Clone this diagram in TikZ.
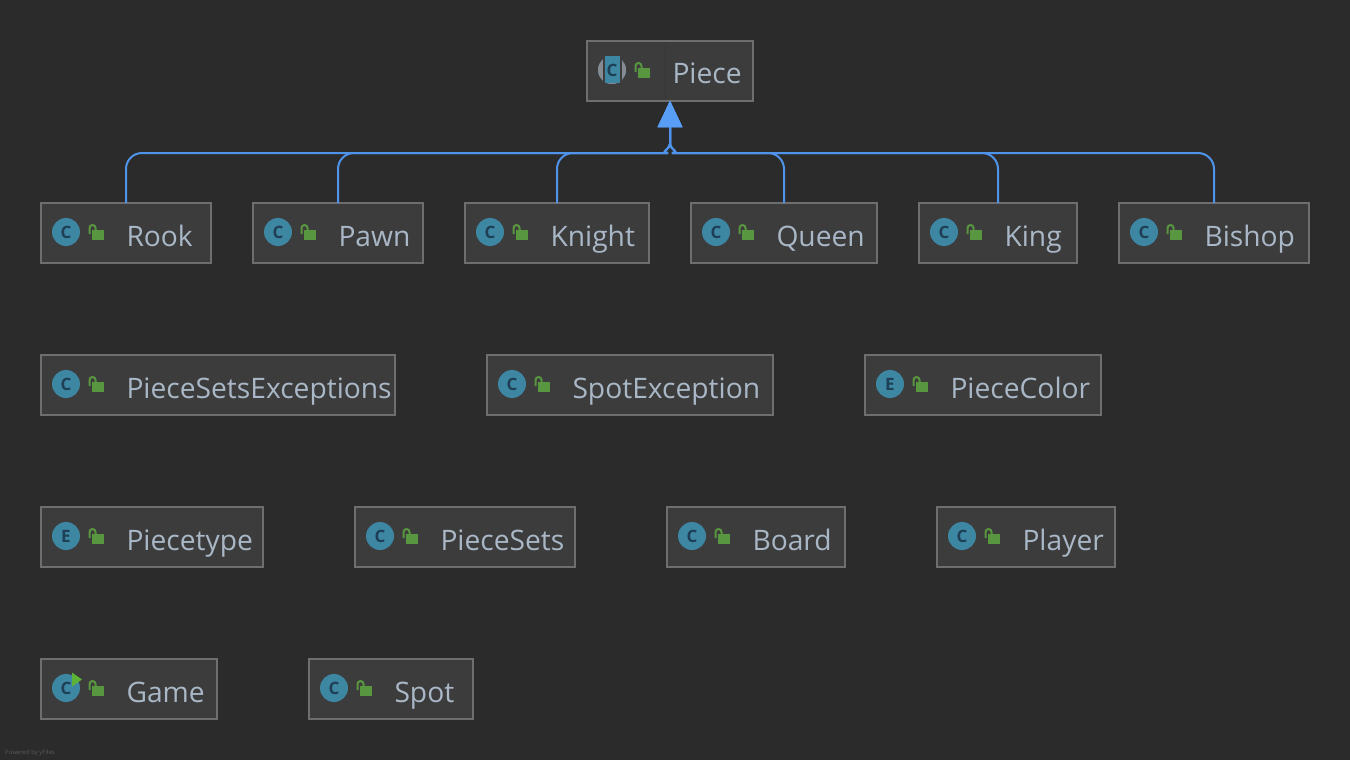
\documentclass[tikz,border=0pt]{standalone}
\usepackage{fontspec}
\setmainfont{Open Sans}
\usetikzlibrary{calc}
\usetikzlibrary{arrows.meta}

\definecolor{bgcol}{HTML}{2B2B2B}
\definecolor{boxfill}{HTML}{3C3C3C}
\definecolor{boxline}{HTML}{6E6E6E}
\definecolor{labelcol}{HTML}{A9B7C6}
\definecolor{iconcol}{HTML}{3D87A3}
\definecolor{iconletter}{HTML}{1E3F55}
\definecolor{lockcol}{HTML}{58963F}
\definecolor{runcol}{HTML}{5CB336}
\definecolor{inheritcol}{HTML}{4F94EA}
\definecolor{tipcol}{HTML}{589DF6}

\tikzset{
    classbox/.style={draw=boxline, fill=boxfill, line width=2pt, outer sep=0pt, inner sep=0pt, minimum height=60pt, anchor=north west},
    classlabel/.style={text=labelcol, font=\fontsize{28.2}{28.2}\selectfont, inner sep=0pt, outer sep=0pt, anchor=base west},
    kindletter/.style={text=iconletter, font=\fontsize{17}{17}\selectfont\bfseries, inner sep=0pt},
    inherit/.style={draw=inheritcol, line width=2pt, -{Triangle[length=26pt, width=24pt, color=tipcol]}},
}

% class box: icon, lock and name
\newcommand{\classnode}[6]{
    \node [classbox, minimum width=#4pt] (#1) at (#2,#3) {};
    \fill [iconcol] (#2+25,#3+29) circle [radius=14];
    \node [kindletter] (#1-kind) at (#2+25,#3+29) {#5};
    \fill [lockcol] (#2+51,#3+27) rectangle (#2+63,#3+37);
    \draw [lockcol, line width=2pt, rounded corners=3pt] (#2+48.5,#3+31) -- (#2+48.5,#3+22) -- (#2+54.5,#3+22) -- (#2+54.5,#3+27);
    \node [classlabel] (#1-label) at (#2+85.5,#3+43) {#6};
}

\begin{document}
\begin{tikzpicture}[x=1pt,y=-1pt]

    \useasboundingbox (0,0) rectangle (1350,760);
    \fill [bgcol] (0,0) rectangle (1350,760);

    %% root class
    \classnode{Piece}{587}{41}{166}{C}{Piece}
    \draw [line width=1pt, boxfill!92!black] (665,42) -- (665,100);
    % abstract marker on the icon
    \fill [boxline!60!labelcol] (612,70) circle [radius=14];
    \fill [boxfill] (603,55) rectangle (605,85);
    \fill [boxfill] (620,55) rectangle (622,85);
    \fill [iconcol] (605,56.5) rectangle (620,83.5);
    \node [kindletter] (Piece-abstract) at (612,70) {C};

    %% all other classes
    \foreach \nm/\x/\y/\w/\kind in {
        Rook/41/203/170/C, Pawn/253/203/170/C, Knight/465/203/184/C,
        Queen/691/203/186/C, King/919/203/158/C, Bishop/1119/203/190/C,
        PieceSetsExceptions/41/355/354/C, SpotException/487/355/286/C, PieceColor/865/355/236/E,
        Piecetype/41/507/222/E, PieceSets/355/507/220/C, Board/667/507/178/C, Player/937/507/178/C,
        Game/41/659/176/C, Spot/309/659/164/C}
    {
        \classnode{\nm}{\x}{\y}{\w}{\kind}{\nm}
    }

    % run marker
    \fill [runcol] (72,672.5) -- (82,679.5) -- (72,686.5) -- cycle;

    %% inheritance
    \coordinate (bus) at (670,153);
    \foreach \nm/\sgn in {Rook/-1,Pawn/-1,Knight/-1,Queen/1,King/1,Bishop/1}
    {
        \draw [inherit, rounded corners=16pt] (\nm.north) -- (\nm.north |- bus) -- ($(bus)+(\sgn*18,0)$) [sharp corners]
            .. controls ($(bus)+(\sgn*11,0)$) and ($(bus)+(0,-4)$) .. ($(bus)+(0,-9)$) -- (Piece.south);
    }

    \node [text=boxline!70!bgcol, font=\fontsize{6}{6}\selectfont, anchor=base west, inner sep=0pt] (credit) at (5,754) {Powered by yFiles};

\end{tikzpicture}
\end{document}
